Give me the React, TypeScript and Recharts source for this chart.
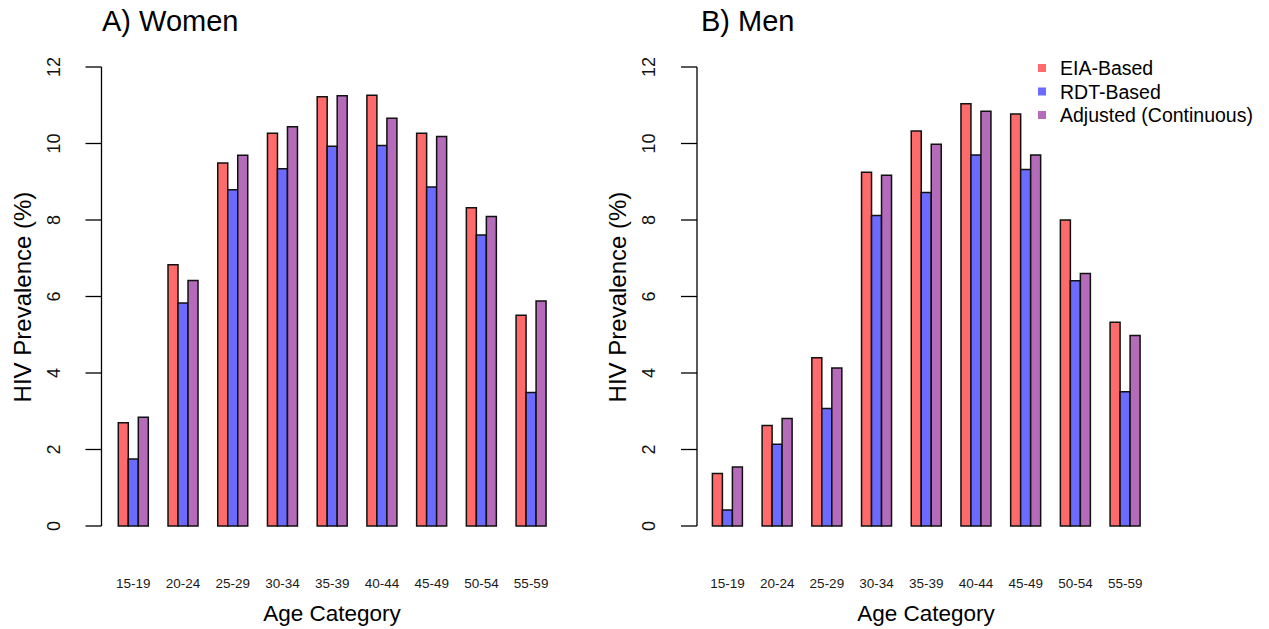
import React from 'react';
import { BarChart, Bar, XAxis, YAxis } from 'recharts';

const ages = ['15-19', '20-24', '25-29', '30-34', '35-39', '40-44', '45-49', '50-54', '55-59'];

const womenEIA = [2.7, 6.83, 9.49, 10.27, 11.22, 11.26, 10.27, 8.32, 5.51];
const womenRDT = [1.75, 5.83, 8.79, 9.34, 9.93, 9.95, 8.86, 7.61, 3.49];
const womenAdj = [2.84, 6.42, 9.69, 10.44, 11.25, 10.66, 10.18, 8.09, 5.88];

const menEIA = [1.37, 2.63, 4.4, 9.25, 10.33, 11.04, 10.77, 8.0, 5.33];
const menRDT = [0.42, 2.14, 3.07, 8.12, 8.72, 9.7, 9.32, 6.41, 3.51];
const menAdj = [1.54, 2.81, 4.13, 9.17, 9.98, 10.84, 9.7, 6.6, 4.98];

const seriesNames = ['EIA-Based', 'RDT-Based', 'Adjusted (Continuous)'];
const yTicks = [0, 2, 4, 6, 8, 10, 12];

const COLORS = ['#FF6B6B', '#6B6BFF', '#B36BBA'];
const FONT = '"Liberation Sans", Arial, Helvetica, sans-serif';

const buildRows = (eia: number[], rdt: number[], adj: number[]) =>
    ages.map((age, i) => ({ age, eia: eia[i], rdt: rdt[i], adj: adj[i] }));

const womenData = buildRows(womenEIA, womenRDT, womenAdj);
const menData = buildRows(menEIA, menRDT, menAdj);

const YTick = ({ x, y, payload }: any) => (
    <text
        transform={`translate(${x - 30},${y}) rotate(-90)`}
        textAnchor="middle"
        dominantBaseline="central"
        fontSize={18}
        fontFamily={FONT}
        fill="#111"
    >
        {payload.value}
    </text>
);

const XTick = ({ x, y, payload }: any) => (
    <text x={x} y={y + 62} textAnchor="middle" fontSize={13.5} fontFamily={FONT} fill="#1a1a1a">
        {payload.value}
    </text>
);

interface PanelProps {
    data: any[];
    left: number;
    width: number;
    axisWidth: number;
    padLeft: number;
    marginRight: number;
}

const Panel: React.FC<PanelProps> = ({ data, left, width, axisWidth, padLeft, marginRight }) => (
    <div style={{ position: 'absolute', left, top: 0 }}>
        <BarChart
            width={width}
            height={629}
            data={data}
            margin={{ top: 67, right: marginRight, bottom: 0, left: 0 }}
            barCategoryGap={9.8}
            barGap={0}
        >
            <XAxis
                dataKey="age"
                height={103}
                axisLine={false}
                tickLine={false}
                tickSize={0}
                tickMargin={0}
                padding={{ left: padLeft, right: 0 }}
                tick={<XTick />}
                interval={0}
            />
            <YAxis
                width={axisWidth}
                domain={[0, 12]}
                ticks={yTicks}
                tickSize={16}
                axisLine={{ stroke: '#000', strokeWidth: 1.3 }}
                tickLine={{ stroke: '#000', strokeWidth: 1.3 }}
                tick={<YTick />}
                interval={0}
            />
            <Bar dataKey="eia" fill={COLORS[0]} stroke="#111" strokeWidth={1.5} isAnimationActive={false} />
            <Bar dataKey="rdt" fill={COLORS[1]} stroke="#111" strokeWidth={1.5} isAnimationActive={false} />
            <Bar dataKey="adj" fill={COLORS[2]} stroke="#111" strokeWidth={1.5} isAnimationActive={false} />
        </BarChart>
    </div>
);

const App: React.FC = () => {
    return (
        <div style={{ position: 'absolute', left: 0, top: 0, width: 1269, height: 629, background: '#fff', fontFamily: FONT }}>
            <Panel data={womenData} left={0} width={634} axisWidth={101.5} padLeft={7} marginRight={78} />
            <Panel data={menData} left={600} width={669} axisWidth={97} padLeft={5.6} marginRight={119} />

            {/* titles, axis labels and legend */}
            <svg width={1269} height={629} style={{ position: 'absolute', left: 0, top: 0, pointerEvents: 'none' }}>
                <g fontFamily={FONT} fill="#000">
                    <text x={102} y={31} fontSize={29}>A) Women</text>
                    <text x={701} y={31} fontSize={29}>B) Men</text>

                    <text transform="translate(22,297) rotate(-90)" textAnchor="middle" dominantBaseline="central" fontSize={24}>
                        HIV Prevalence (%)
                    </text>
                    <text transform="translate(617,297) rotate(-90)" textAnchor="middle" dominantBaseline="central" fontSize={24}>
                        HIV Prevalence (%)
                    </text>

                    <text x={332} y={621} textAnchor="middle" fontSize={22.5}>Age Category</text>
                    <text x={926} y={621} textAnchor="middle" fontSize={22.5}>Age Category</text>

                    {seriesNames.map((name, i) => (
                        <g key={name}>
                            <rect x={1038} y={64 + i * 23.5} width={8} height={8} fill={COLORS[i]} />
                            <text x={1060} y={75 + i * 23.5} fontSize={19.5}>{name}</text>
                        </g>
                    ))}
                </g>
            </svg>
        </div>
    );
};

export default App;
